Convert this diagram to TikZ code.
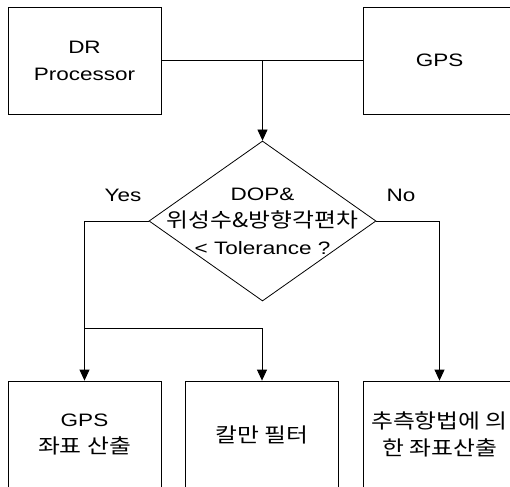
\documentclass[tikz,border=0pt]{standalone}
\usepackage{fontspec}
\setmainfont{Liberation Sans}[FakeStretch=1.25]
\newfontfamily\kr{Noto Sans CJK KR}[Scale=1.12, FakeStretch=1.18]
\usetikzlibrary{shapes.geometric,arrows.meta}

\begin{document}
\begin{tikzpicture}
  [x = 1pt, y = -1pt, line width = .8pt,
   box/.style = {draw, minimum width = 153pt, minimum height = 107pt,
     inner sep = 0pt, align = center},
   arr/.style = {-{Triangle[width = 10pt, length = 11pt]}},
   font = \fontsize{18}{27}\selectfont]
  \clip (0,0) rectangle (510,486);
  % top row
  \node[box] (dr) at (84.5,60.5) {DR\\Processor};
  \node[box] (gps) at (439.5,60.5) {GPS};
  % decision
  \node[draw, diamond, minimum width = 227pt, minimum height = 160pt,
    inner sep = 0pt] (dec) at (262.5,221) {};
  \node[align = center] (cond) at (dec.center)
    {DOP\&\\{\kr 위성수\&방향각편차}\\< Tolerance ?};
  \node (yes) at (123,195) {Yes};
  \node (no) at (401,195) {No};
  % bottom row
  \node[box] (gpsxy) at (84.5,434.5) {GPS\\{\kr 좌표 산출}};
  \node[box] (kalman) at (262,434.5) {\kr 칼만 필터};
  \node[box] (dead) at (439.5,434.5) {\kr 추측항법에 의\\\kr 한 좌표산출};
  % connectors
  \draw (dr.east) -- (gps.west);
  \coordinate (mid) at (dec.north |- dr.east);
  \draw[arr] (mid) -- (dec.north);
  \draw[arr] (dec.west) -| (gpsxy.north);
  \coordinate (br) at (84.5,328);
  \draw[arr] (br) -| (kalman.north);
  \draw[arr] (dec.east) -| (dead.north);
\end{tikzpicture}
\end{document}
